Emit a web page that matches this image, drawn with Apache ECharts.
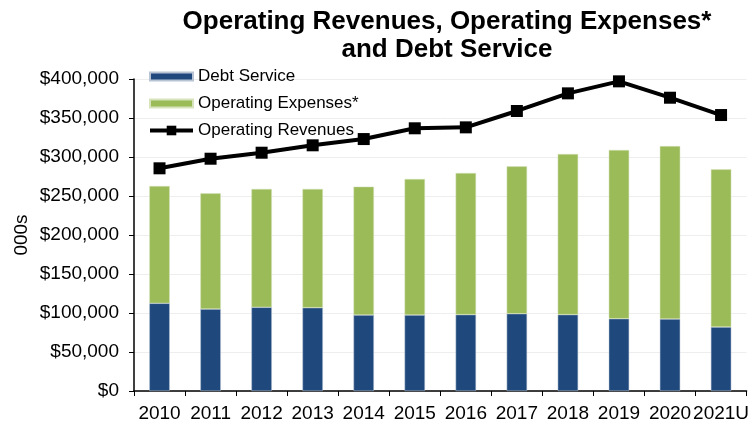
<!DOCTYPE html>
<html>
<head>
<meta charset="utf-8">
<script src="https://cdn.jsdelivr.net/npm/echarts@6/dist/echarts.min.js"></script>
<style>html,body{margin:0;padding:0;background:#fff}#c{width:752px;height:427px}</style>
</head>
<body>
<div id="c"></div>
<script>
const categories = ['2010','2011','2012','2013','2014','2015','2016','2017','2018','2019','2020','2021U'];
const debtService = [112400,105000,107300,106800,97400,97400,97900,99100,97900,92700,92300,82000];
const operatingExpenses = [150400,148400,151700,152200,164600,174400,181600,188900,205900,216300,221700,202200];
const operatingRevenues = [285500,297800,305500,315000,323000,336800,338000,359000,381600,397000,376000,353800];
const yTicks = [0,50000,100000,150000,200000,250000,300000,350000,400000];

const chart = echarts.init(document.getElementById('c'), null, {renderer:'canvas'});
const font = 'Liberation Sans, Arial, sans-serif';
const barIcon = 'path://M0,0h43v8h-43z';
chart.setOption({
  animation:false,
  textStyle:{fontFamily:font},
  title:{
    text:'Operating Revenues, Operating Expenses*\nand Debt Service',
    left:442, top:3, textAlign:'center',
    textStyle:{fontFamily:font,fontSize:26,fontWeight:'bold',color:'#000',lineHeight:28}
  },
  legend:{
    orient:'vertical', left:143, top:63,
    itemWidth:43, itemHeight:12, itemGap:10,
    lineStyle:{width:4,color:'#000'},
    textStyle:{fontFamily:font,fontSize:17,color:'#000',lineHeight:17},
    data:[{name:'Debt Service',icon:barIcon},{name:'Operating Expenses*',icon:barIcon},'Operating Revenues']
  },
  grid:{left:134,right:4,top:79,bottom:36},
  xAxis:{
    type:'category', data:categories,
    axisLine:{lineStyle:{color:'#000',width:1.5}},
    axisTick:{show:true,length:5,lineStyle:{color:'#000'}},
    axisLabel:{color:'#000',fontSize:19,margin:13,fontFamily:font,interval:0,hideOverlap:false}
  },
  yAxis:{
    type:'value', min:0, max:400000, interval:50000,
    name:'000s', nameLocation:'middle', nameGap:103, nameRotate:90, nameMoveOverlap:false,
    nameTextStyle:{color:'#000',fontSize:19,fontFamily:font},
    axisLine:{show:true,lineStyle:{color:'#000',width:1.5}},
    axisTick:{show:true,length:5,lineStyle:{color:'#000'}},
    splitLine:{lineStyle:{color:'#eeeeee'}},
    axisLabel:{color:'#000',fontSize:19,margin:15,fontFamily:font,
      formatter:v=>'$'+v.toLocaleString('en-US')}
  },
  series:[
    {name:'Debt Service',type:'bar',stack:'s',data:debtService,barWidth:'40%',
     itemStyle:{color:'#1F497D',borderColor:'#b8c4d4',borderWidth:0.5}},
    {name:'Operating Expenses*',type:'bar',stack:'s',data:operatingExpenses,barWidth:'40%',
     itemStyle:{color:'#9BBB59',borderColor:'#d6e3bc',borderWidth:0.5}},
    {name:'Operating Revenues',type:'line',data:operatingRevenues,
     symbol:'rect',symbolSize:12,
     lineStyle:{color:'#000',width:4},itemStyle:{color:'#000'}}
  ]
});
</script>
</body>
</html>
